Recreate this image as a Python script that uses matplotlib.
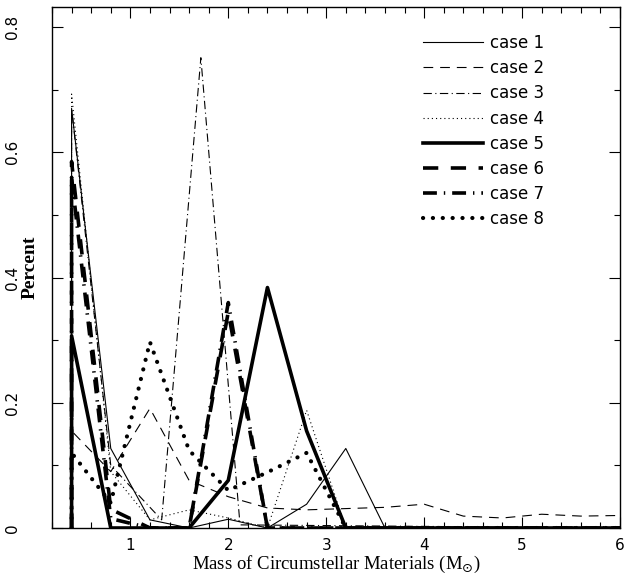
import numpy as np
import matplotlib
matplotlib.use("Agg")
import matplotlib.pyplot as plt
from matplotlib.ticker import MultipleLocator

# mass grid (first point repeated: lines start from zero at 0.4)
mass = [0.4, 0.4, 0.8, 1.2, 1.6, 2.0, 2.4, 2.8, 3.2, 3.6, 4.0, 4.4, 4.8, 5.2, 5.6, 6.0]

case1 = [0, 0.670, 0.127, 0.013, 0.0, 0.014, 0.0, 0.038, 0.127, 0, 0, 0, 0, 0, 0, 0]
case2 = [0, 0.155, 0.090, 0.191, 0.076, 0.050, 0.032, 0.029, 0.031, 0.033, 0.038, 0.019, 0.016, 0.022, 0.019, 0.020]
case4 = [0, 0.693, 0.090, 0.013, 0.029, 0.016, 0.0, 0.188, 0, 0, 0, 0, 0, 0, 0, 0]
case5 = [0, 0.307, 0, 0, 0, 0.076, 0.384, 0.155, 0, 0, 0, 0, 0, 0, 0, 0]
case6 = [0, 0.585, 0.030, 0, 0, 0.345, 0, 0, 0, 0, 0, 0, 0, 0, 0, 0]
case7 = [0, 0.560, 0.015, 0, 0, 0.360, 0, 0, 0, 0, 0, 0, 0, 0, 0, 0]
case8 = [0, 0.120, 0.040, 0.297, 0.124, 0.060, 0.089, 0.120, 0, 0, 0, 0, 0, 0, 0, 0]

# case 3 sits on a shifted grid
mass3 = [0.4, 0.4, 0.8, 1.32, 1.72, 2.12, 6.0]
case3 = [0, 0.670, 0.100, 0.013, 0.751, 0.005, 0]

labels = ["case 1", "case 2", "case 3", "case 4", "case 5", "case 6", "case 7", "case 8"]
ytick_vals = [0, 0.2, 0.4, 0.6, 0.8]
ytick_text = ["0", "0.2", "0.4", "0.6", "0.8"]

plt.rcParams['lines.scale_dashes'] = False

fig = plt.figure(figsize=(6.27, 5.77), dpi=100)
ax = fig.add_axes([52/627, 49/577, 568/627, 521/577])

thin = 0.8
thick = 2.6
ax.plot(mass, case1, color='k', lw=thin, ls='-', label=labels[0])
ax.plot(mass, case2, color='k', lw=thin, ls=(0, (7, 5)), label=labels[1])
ax.plot(mass3, case3, color='k', lw=thin, ls=(0, (6, 2.5, 0.8, 2.5)), label=labels[2])
ax.plot(mass, case4, color='k', lw=thin, ls=(0, (0.8, 2.2)), label=labels[3])
ax.plot(mass, case5, color='k', lw=thick, ls='-', label=labels[4])
ax.plot(mass, case6, color='k', lw=thick, ls=(0, (11, 9)), label=labels[5])
ax.plot(mass, case7, color='k', lw=thick, ls=(0, (10, 5, 1, 5)), label=labels[6])
ax.plot(mass, case8, color='k', lw=3.0, ls=(0, (0.1, 7)), dash_capstyle='round', label=labels[7])

ax.set_xlim(0.2, 6.0)
ax.set_ylim(0, 0.832)
ax.xaxis.set_major_locator(MultipleLocator(1))
ax.xaxis.set_minor_locator(MultipleLocator(0.2))
ax.yaxis.set_minor_locator(MultipleLocator(0.1))
ax.set_yticks(ytick_vals)
ax.set_yticklabels(ytick_text, rotation=90, va='center')
ax.tick_params(which='both', direction='in', top=True, right=True, width=0.8)
ax.tick_params(which='major', length=8, labelsize=11)
ax.tick_params(axis='x', which='major', pad=7)
ax.tick_params(axis='y', which='major', pad=23)
ax.tick_params(which='minor', length=4)
for s in ax.spines.values():
    s.set_linewidth(1.0)

ax.set_xlabel(r"Mass of Circumstellar Materials (M$_{\odot}$)", family="Liberation Serif", fontsize=13.5)
ax.xaxis.set_label_coords(0.5, -0.05)
ax.set_ylabel("Percent", family="Liberation Serif", fontweight='bold', fontsize=14)
ax.yaxis.set_label_coords(-0.024, 0.5)

ax.legend(loc='upper left', bbox_to_anchor=(0.653, 0.948), frameon=False, fontsize=12,
          handlelength=3.6, handletextpad=0.45, labelspacing=0.43, borderpad=0, borderaxespad=0)

fig.savefig("out.png", dpi=100)
